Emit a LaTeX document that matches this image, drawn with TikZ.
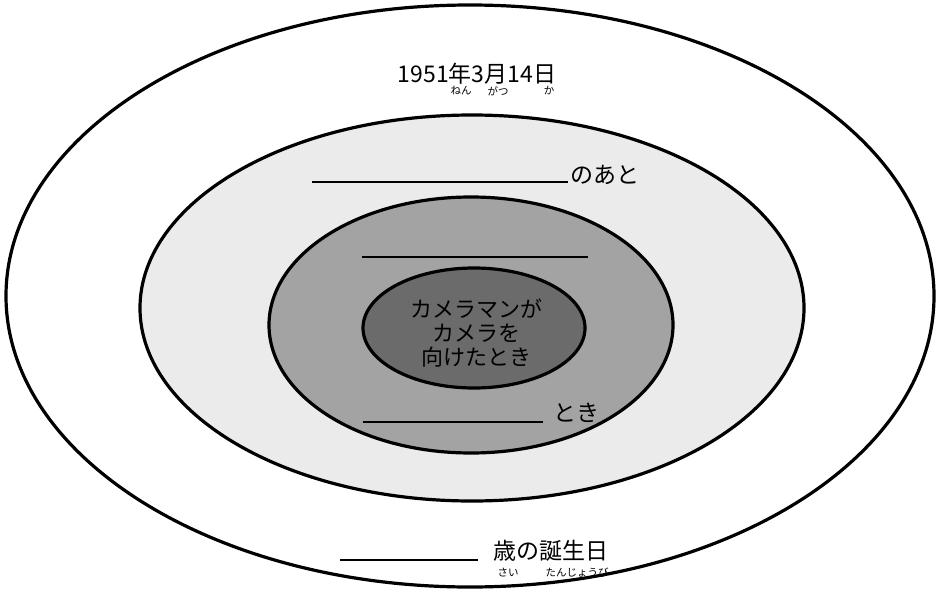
\documentclass[tikz,border=0pt]{standalone}
\usepackage{fontspec}
\newfontfamily\jp{Noto Sans CJK JP}
\begin{document}
\begin{tikzpicture}[x=1pt,y=-1pt,
  ring/.style={draw=black,line width=3.2pt},
  blank/.style={draw=black,line width=1.8pt},
  big/.style={font=\jp\fontsize{23}{24}\selectfont,inner sep=0pt},
  ruby/.style={font=\jp\fontsize{10.5}{10}\selectfont,inner sep=0pt}]
\useasboundingbox (0,0) rectangle (936,597);
\fill[white] (0,0) rectangle (936,597);
% rings
\draw[ring,fill=white] (470,296) ellipse [x radius=464,y radius=291];
\draw[ring,fill=black!8] (472,308) ellipse [x radius=332,y radius=193];
\draw[ring,fill=black!36] (471,325) ellipse [x radius=202,y radius=128];
\draw[ring,fill=black!58] (474,328) ellipse [x radius=111,y radius=60];
% top date
\node[big] (date) at (477,74) {1951年3月14日};
\node[ruby] (r1) at (461,91) {ねん};
\node[ruby] (r2) at (498,91) {がつ};
\node[ruby] (r3) at (549,91) {か};
% second ring
\coordinate (a1) at (312,182);
\coordinate (a2) at (568,182);
\draw[blank] (a1) -- (a2);
\node[big,anchor=west] (ato) at (570,175) {のあと};
% third ring
\coordinate (b1) at (362,257);
\coordinate (b2) at (588,257);
\draw[blank] (b1) -- (b2);
\coordinate (c1) at (363,422);
\coordinate (c2) at (543,422);
\draw[blank] (c1) -- (c2);
\node[big,anchor=west] (toki) at (553,413) {とき};
% inner
\node[font=\jp\fontsize{22}{24}\selectfont,align=center,inner sep=0pt] (cam) at (476,333) {カメラマンが\\カメラを\\向けたとき};
% bottom
\coordinate (d1) at (340,560);
\coordinate (d2) at (478,560);
\draw[blank] (d1) -- (d2);
\node[big,anchor=west] (age) at (493,551) {歳の誕生日};
\node[ruby] (r4) at (508,573) {さい};
\node[ruby] (r5) at (577,573) {たんじょうび};
\end{tikzpicture}
\end{document}
